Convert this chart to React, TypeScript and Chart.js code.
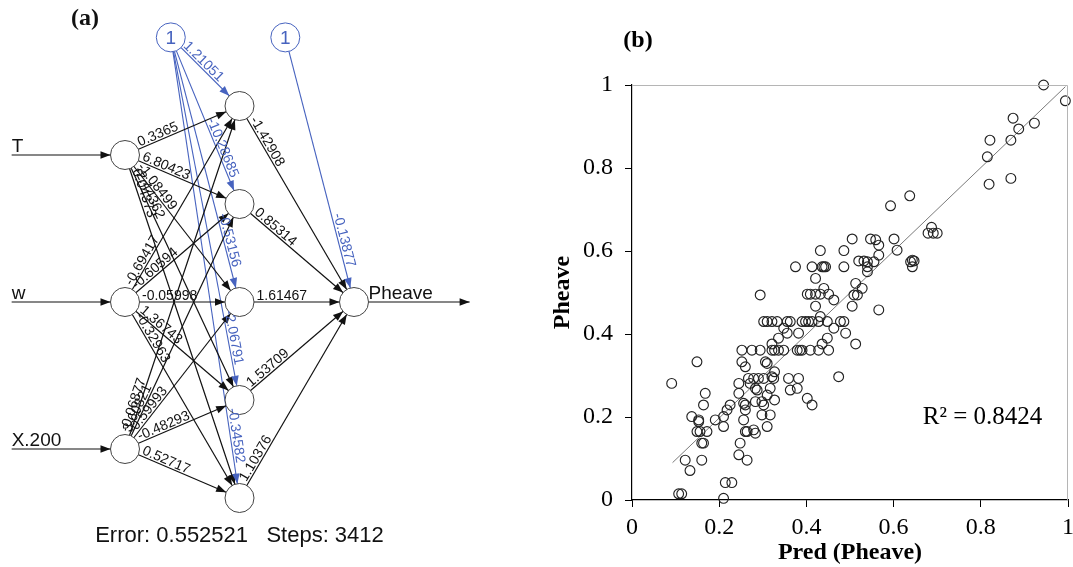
import React, { useEffect, useRef } from "react";
import { Chart, registerables } from "chart.js";
Chart.register(...registerables);

// ---------------- Panel (a): neural network ----------------
const inputNames = ["T", "w", "X.200"];
const inputRows = [-1.5, 0, 1.5];
const hiddenRows = [-2, -1, 0, 1, 2];
const outputName = "Pheave";
const outputRow = 0;
const biasRow = -2.7;
const biasCols = [0.4, 1.4];
const layerCols = [0, 1, 2];

const inputToHidden = [
  ["0.3365", "6.80423", "-1.08499", "-2.44362", "0.04373"],
  ["-0.69417", "-0.60594", "-0.05998", "1.36743", "-0.32963"],
  ["-0.06877", "3.60821", "-0.59993", "-0.48293", "0.52717"],
];
const hiddenToOutput = ["-1.42908", "0.85314", "1.61467", "1.53709", "1.10376"];
const biasToHidden = ["1.21051", "-10.28685", "-0.53156", "-2.06791", "-0.34582"];
const biasToOutput = ["-0.13877"];
const errorValue = "0.552521";
const stepsValue = "3412";

// ---------------- Panel (b): scatter ----------------
const predPheave = [
  0.252, 0.275, 0.294, 0.321, 0.327, 0.336, 0.348, 0.379, 0.385, 0.39, 0.409, 0.428, 0.451,
  0.321, 0.336, 0.356, 0.382, 0.436, 0.448, 0.149, 0.252, 0.26, 0.306, 0.31, 0.327, 0.091,
  0.267, 0.279, 0.29, 0.302, 0.321, 0.325, 0.359, 0.382, 0.245, 0.271, 0.283, 0.287, 0.317,
  0.31, 0.363, 0.379, 0.402, 0.413, 0.327, 0.168, 0.245, 0.256, 0.26, 0.283, 0.298, 0.302,
  0.225, 0.218, 0.26, 0.164, 0.137, 0.153, 0.153, 0.191, 0.21, 0.256, 0.298, 0.317, 0.149,
  0.156, 0.172, 0.21, 0.26, 0.264, 0.279, 0.283, 0.31, 0.16, 0.164, 0.248, 0.245, 0.122,
  0.16, 0.264, 0.133, 0.214, 0.229, 0.107, 0.114, 0.21,
  0.505, 0.547, 0.559, 0.566, 0.601, 0.608, 0.566, 0.432, 0.486, 0.52, 0.532, 0.54, 0.555,
  0.54, 0.54, 0.639, 0.643, 0.647, 0.643, 0.375, 0.413, 0.436, 0.44, 0.444, 0.486, 0.421,
  0.513, 0.528, 0.509, 0.517, 0.294, 0.402, 0.409, 0.421, 0.432, 0.451, 0.44, 0.463, 0.421,
  0.505, 0.566, 0.302, 0.31, 0.321, 0.333, 0.356, 0.363, 0.39, 0.398, 0.405, 0.413, 0.428,
  0.432, 0.448, 0.478, 0.486, 0.463, 0.348, 0.49, 0.513, 0.474,
  0.944, 0.994, 0.874, 0.887, 0.923, 0.821, 0.869, 0.815, 0.819, 0.869, 0.637, 0.593, 0.687,
  0.679, 0.691, 0.7,
];
const pheave = [
  0.361, 0.361, 0.361, 0.361, 0.361, 0.361, 0.361, 0.361, 0.361, 0.361, 0.361, 0.361, 0.361,
  0.376, 0.39, 0.402, 0.402, 0.376, 0.39, 0.333, 0.333, 0.321, 0.333, 0.329, 0.309, 0.281,
  0.293, 0.293, 0.293, 0.293, 0.297, 0.293, 0.293, 0.293, 0.281, 0.281, 0.269, 0.265, 0.269,
  0.253, 0.265, 0.269, 0.245, 0.229, 0.241, 0.257, 0.257, 0.233, 0.229, 0.237, 0.237, 0.229,
  0.229, 0.217, 0.217, 0.229, 0.201, 0.193, 0.189, 0.193, 0.201, 0.193, 0.205, 0.205, 0.165,
  0.165, 0.165, 0.177, 0.165, 0.165, 0.169, 0.161, 0.177, 0.137, 0.137, 0.137, 0.109, 0.096,
  0.096, 0.096, 0.071, 0.042, 0.042, 0.015, 0.015, 0.004,
  0.629, 0.629, 0.627, 0.614, 0.629, 0.602, 0.59, 0.601, 0.601, 0.576, 0.576, 0.574, 0.574,
  0.562, 0.55, 0.574, 0.578, 0.576, 0.562, 0.562, 0.562, 0.562, 0.562, 0.562, 0.562, 0.534,
  0.522, 0.51, 0.494, 0.494, 0.494, 0.496, 0.496, 0.496, 0.496, 0.496, 0.51, 0.482, 0.467,
  0.467, 0.458, 0.43, 0.43, 0.43, 0.43, 0.43, 0.43, 0.43, 0.43, 0.43, 0.43, 0.43,
  0.442, 0.43, 0.43, 0.43, 0.414, 0.414, 0.402, 0.376, 0.297,
  1.0, 0.962, 0.92, 0.894, 0.908, 0.867, 0.867, 0.827, 0.761, 0.775, 0.733, 0.709, 0.657,
  0.643, 0.643, 0.643,
];
const fitX = [0.093, 0.994];
const fitY = [0.09, 0.996];
const xTickValues = [0, 0.2, 0.4, 0.6, 0.8, 1];
const xTickLabels = ["0", "0.2", "0.4", "0.6", "0.8", "1"];
const yTickValues = [0, 0.2, 0.4, 0.6, 0.8, 1];
const yTickLabels = ["0", "0.2", "0.4", "0.6", "0.8", "1"];
const r2Text = "R\u00B2 = 0.8424";
const r2Pos = { x: 0.667, y: 0.2 };

// ---------------- styles ----------------
const BLUE = "#4763bf";
const BLACK = "#111";
const NODE_R = 14.5;
const SANS = "'Liberation Sans', Arial, sans-serif";
const SERIF = "'Liberation Serif', 'Times New Roman', serif";

type Pt = { x: number; y: number };
type Edge = { from: Pt; to: Pt; color: string; label: string; bias: boolean };

const inputNodes: Pt[] = inputRows.map((r) => ({ x: layerCols[0], y: r }));
const hiddenNodes: Pt[] = hiddenRows.map((r) => ({ x: layerCols[1], y: r }));
const outputNode: Pt = { x: layerCols[2], y: outputRow };
const biasNodes: Pt[] = biasCols.map((c) => ({ x: c, y: biasRow }));
const inputStubStart = -0.99;
const outputStubEnd = 3.01;

const edges: Edge[] = [];
inputNodes.forEach((a, i) =>
  hiddenNodes.forEach((b, h) =>
    edges.push({ from: a, to: b, color: BLACK, label: inputToHidden[i][h], bias: false })
  )
);
hiddenNodes.forEach((a, h) =>
  edges.push({ from: a, to: outputNode, color: BLACK, label: hiddenToOutput[h], bias: false })
);
hiddenNodes.forEach((b, h) =>
  edges.push({ from: biasNodes[0], to: b, color: BLUE, label: biasToHidden[h], bias: true })
);
edges.push({ from: biasNodes[1], to: outputNode, color: BLUE, label: biasToOutput[0], bias: true });

function arrowHead(ctx: CanvasRenderingContext2D, x1: number, y1: number, x2: number, y2: number, back: number, color: string) {
  const dx = x2 - x1, dy = y2 - y1;
  const L = Math.hypot(dx, dy);
  const ux = dx / L, uy = dy / L;
  const tx = x2 - ux * back, ty = y2 - uy * back;
  const bx = tx - ux * 10, by = ty - uy * 10;
  ctx.beginPath();
  ctx.moveTo(tx, ty);
  ctx.lineTo(bx - uy * 3.8, by + ux * 3.8);
  ctx.lineTo(bx + uy * 3.8, by - ux * 3.8);
  ctx.closePath();
  ctx.fillStyle = color;
  ctx.fill();
}

const netPlugin = {
  id: "netPlugin",
  afterDatasetsDraw(chart: any) {
    const ctx: CanvasRenderingContext2D = chart.ctx;
    const xs = chart.scales.x, ys = chart.scales.y;
    const P = (p: Pt) => ({ x: xs.getPixelForValue(p.x), y: ys.getPixelForValue(p.y) });
    ctx.save();
    edges.forEach((e) => {
      const a = P(e.from), b = P(e.to);
      arrowHead(ctx, a.x, a.y, b.x, b.y, NODE_R, e.color);
    });
    edges.forEach((e) => {
      const a = P(e.from), b = P(e.to);
      const dx = b.x - a.x, dy = b.y - a.y;
      const L = Math.hypot(dx, dy);
      const ang = Math.atan2(dy, dx);
      const d = e.bias ? Math.max(15, L - 90) : 17;
      const sx = a.x + (dx / L) * d, sy = a.y + (dy / L) * d;
      ctx.save();
      ctx.translate(sx, sy);
      ctx.rotate(ang);
      ctx.font = `14px ${SANS}`;
      ctx.fillStyle = e.color;
      ctx.textAlign = "left";
      ctx.textBaseline = "alphabetic";
      ctx.fillText(e.label, 0, -2);
      ctx.restore();
    });
    inputNodes.forEach((n, i) => {
      const a = P({ x: inputStubStart, y: n.y }), b = P(n);
      arrowHead(ctx, a.x, a.y, b.x, b.y, NODE_R, BLACK);
      ctx.font = `19px ${SANS}`;
      ctx.fillStyle = BLACK;
      ctx.textAlign = "left";
      ctx.textBaseline = "alphabetic";
      ctx.fillText(inputNames[i], a.x, a.y - 3);
    });
    {
      const a = P(outputNode), b = P({ x: outputStubEnd, y: outputNode.y });
      arrowHead(ctx, a.x, a.y, b.x, b.y, 0, BLACK);
      ctx.font = `19px ${SANS}`;
      ctx.fillStyle = BLACK;
      ctx.textAlign = "left";
      ctx.textBaseline = "alphabetic";
      ctx.fillText(outputName, a.x + NODE_R, a.y - 3);
    }
    biasNodes.forEach((n) => {
      const p = P(n);
      ctx.font = `19px ${SANS}`;
      ctx.fillStyle = BLUE;
      ctx.textAlign = "center";
      ctx.textBaseline = "middle";
      ctx.fillText("1", p.x, p.y + 1);
    });
    const hx = xs.getPixelForValue(layerCols[1]);
    ctx.font = `22px ${SANS}`;
    ctx.fillStyle = BLACK;
    ctx.textAlign = "center";
    ctx.textBaseline = "alphabetic";
    ctx.fillText(`Error: ${errorValue}   Steps: ${stepsValue}`, hx, 542);
    ctx.font = `bold 24px ${SERIF}`;
    ctx.textAlign = "center";
    ctx.textBaseline = "middle";
    ctx.fillText("(a)", 85, 19);
    ctx.restore();
  },
};

const framePlugin = {
  id: "framePlugin",
  afterDraw(chart: any) {
    const ctx: CanvasRenderingContext2D = chart.ctx;
    const { left, right, top, bottom } = chart.chartArea;
    ctx.save();
    ctx.strokeStyle = "#b5b5b5";
    ctx.lineWidth = 1;
    ctx.beginPath();
    ctx.moveTo(left, top + 0.5);
    ctx.lineTo(right - 0.5, top + 0.5);
    ctx.lineTo(right - 0.5, bottom);
    ctx.stroke();
    const xs = chart.scales.x, ys = chart.scales.y;
    ctx.fillStyle = "#000";
    ctx.font = `25px ${SERIF}`;
    ctx.textAlign = "left";
    ctx.textBaseline = "middle";
    ctx.fillText(r2Text, xs.getPixelForValue(r2Pos.x), ys.getPixelForValue(r2Pos.y));
    ctx.font = `bold 24px ${SERIF}`;
    ctx.textAlign = "center";
    ctx.fillText("(b)", 98, 41);
    ctx.restore();
  },
};

export default function App() {
  const leftRef = useRef<HTMLCanvasElement>(null);
  const rightRef = useRef<HTMLCanvasElement>(null);

  useEffect(() => {
    const nodePts = [...inputNodes, ...hiddenNodes, outputNode, ...biasNodes];
    const nodeColors = nodePts.map((_, i) => (i >= inputNodes.length + hiddenNodes.length + 1 ? BLUE : "#444"));
    const edgeSets: any[] = edges.map((e) => ({
      type: "line",
      data: [e.from, e.to],
      borderColor: e.color,
      borderWidth: e.bias ? 1.1 : 1.2,
      pointRadius: 0,
      clip: false,
      order: 2,
    }));
    inputNodes.forEach((n) =>
      edgeSets.push({ type: "line", data: [{ x: inputStubStart, y: n.y }, n], borderColor: BLACK, borderWidth: 1.2, pointRadius: 0, clip: false, order: 2 })
    );
    edgeSets.push({ type: "line", data: [outputNode, { x: outputStubEnd, y: outputNode.y }], borderColor: BLACK, borderWidth: 1.2, pointRadius: 0, clip: false, order: 2 });

    const c1 = new Chart(leftRef.current!, {
      type: "scatter",
      data: {
        datasets: [
          ...edgeSets,
          {
            type: "scatter",
            data: nodePts,
            pointRadius: NODE_R,
            pointBackgroundColor: "#fff",
            pointBorderColor: nodeColors,
            pointBorderWidth: 1,
            clip: false,
            order: 0,
          },
        ],
      },
      options: {
        animation: false,
        responsive: true,
        maintainAspectRatio: false,
        events: [],
        layout: { padding: 0, autoPadding: false },
        plugins: { legend: { display: false }, tooltip: { enabled: false } },
        scales: {
          x: { type: "linear", display: false, min: -125 / 114.5, max: -125 / 114.5 + 500 / 114.5 },
          y: { type: "linear", display: false, reverse: true, min: -302 / 98, max: -302 / 98 + 567 / 98 },
        },
      },
      plugins: [netPlugin],
    } as any);

    const c2 = new Chart(rightRef.current!, {
      type: "scatter",
      data: {
        datasets: [
          {
            type: "scatter",
            data: predPheave.map((x, i) => ({ x, y: pheave[i] })),
            pointRadius: 4.9,
            pointBorderWidth: 1.15,
            pointBorderColor: "#222",
            pointBackgroundColor: "rgba(0,0,0,0)",
            clip: false,
            order: 0,
          },
          {
            type: "line",
            data: fitX.map((x, i) => ({ x, y: fitY[i] })),
            borderColor: "#7a7a7a",
            borderWidth: 1,
            pointRadius: 0,
            order: 1,
          },
        ],
      },
      options: {
        animation: false,
        responsive: true,
        maintainAspectRatio: false,
        events: [],
        layout: { padding: { top: 85, right: 5, left: 0, bottom: 0 }, autoPadding: false },
        plugins: { legend: { display: false }, tooltip: { enabled: false } },
        scales: {
          x: {
            type: "linear",
            min: 0,
            max: 1,
            afterBuildTicks: (s: any) => {
              s.ticks = xTickValues.map((v) => ({ value: v }));
            },
            afterFit: (s: any) => {
              s.height = 67;
              s.paddingLeft = 0;
              s.paddingRight = 0;
            },
            grid: { drawOnChartArea: false, drawTicks: true, tickLength: 7, color: "#000" },
            border: { color: "#000", width: 1.2 },
            ticks: {
              color: "#000",
              font: { family: SERIF, size: 24 },
              padding: 6,
              maxRotation: 0,
              callback: (_v: any, i: number) => xTickLabels[i],
            },
            title: {
              display: true,
              text: "Pred (Pheave)",
              color: "#000",
              font: { family: SERIF, size: 24, weight: "bold" },
              padding: { top: 0, bottom: 0 },
            },
          },
          y: {
            type: "linear",
            min: 0,
            max: 1,
            afterBuildTicks: (s: any) => {
              s.ticks = yTickValues.map((v) => ({ value: v }));
            },
            afterFit: (s: any) => {
              s.width = 92;
              s.paddingTop = 0;
              s.paddingBottom = 0;
            },
            grid: { drawOnChartArea: false, drawTicks: true, tickLength: 7, color: "#000" },
            border: { color: "#000", width: 1.2 },
            ticks: {
              color: "#000",
              font: { family: SERIF, size: 24 },
              padding: 12,
              callback: (_v: any, i: number) => yTickLabels[i],
            },
            title: {
              display: true,
              text: "Pheave",
              color: "#000",
              font: { family: SERIF, size: 24, weight: "bold" },
              padding: { top: 8, bottom: 0 },
            },
          },
        },
      },
      plugins: [framePlugin],
    } as any);

    return () => {
      c1.destroy();
      c2.destroy();
    };
  }, []);

  return (
    <div style={{ position: "fixed", left: 0, top: 0, width: 1073, height: 567, background: "#fff" }}>
      <div style={{ position: "absolute", left: 0, top: 0, width: 500, height: 567 }}>
        <canvas ref={leftRef} />
      </div>
      <div style={{ position: "absolute", left: 540, top: 0, width: 533, height: 567 }}>
        <canvas ref={rightRef} />
      </div>
    </div>
  );
}
